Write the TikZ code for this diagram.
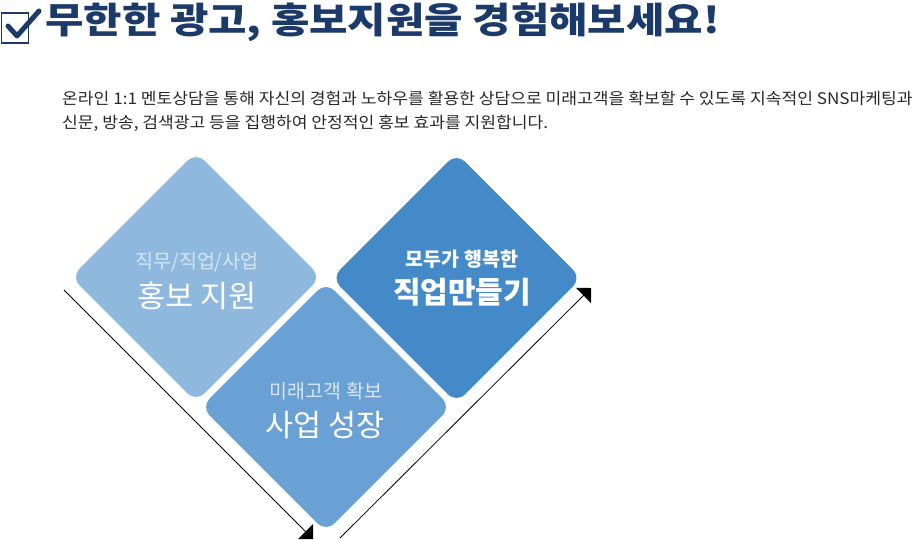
\documentclass[tikz,border=0pt]{standalone}
\usepackage{fontspec}
\setmainfont{Noto Sans CJK KR}
\usetikzlibrary{shapes.geometric,arrows.meta}
\definecolor{navy}{RGB}{27,58,105}
\definecolor{dA}{RGB}{143,184,222}
\definecolor{dB}{RGB}{106,161,212}
\definecolor{dC}{RGB}{68,137,200}
\definecolor{subA}{RGB}{216,230,244}
\definecolor{bodytxt}{RGB}{40,40,40}
\tikzset{
  dia/.style={diamond, shape aspect=1, minimum width=250pt, minimum height=250pt, inner sep=0pt, rounded corners=12pt, draw=none},
  subtxt/.style={font=\fontsize{19.5}{22}\selectfont, inner sep=0pt, anchor=center},
  maintxt/.style={font=\fontsize{30.5}{33}\selectfont, text=white, inner sep=0pt, anchor=center},
  bodyline/.style={anchor=west, inner sep=0pt, text=bodytxt, font=\fontsize{16}{18}\selectfont},
  axis/.style={line width=0.8pt, black, -{Triangle[length=10.6pt,width=21.2pt]}},
}
\begin{document}
\begin{tikzpicture}[x=1pt,y=-1pt]
\useasboundingbox (0,0) rectangle (924,539);
% title
\node (chkbox) [draw=navy, line width=1.6pt, minimum width=27pt, minimum height=30pt, inner sep=0pt] at (15,28) {};
\coordinate (ck1) at (8,26);
\coordinate (ck2) at (17,36);
\coordinate (ck3) at (39,11);
\draw[navy, line width=5pt, line cap=round, line join=round] (ck1) -- (ck2) -- (ck3);
\node (title) [anchor=west, inner sep=0pt, text=navy, font=\fontsize{36}{40}\selectfont\bfseries] at (45,22) {\scalebox{1.16}[1]{무한한 광고, 홍보지원을 경험해보세요!}};
% paragraph
\node (p1) [bodyline] at (62,98) {\scalebox{1.07}[1]{온라인 1:1 멘토상담을 통해 자신의 경험과 노하우를 활용한 상담으로 미래고객을 확보할 수 있도록 지속적인 SNS마케팅과}};
\node (p2) [bodyline] at (62,123) {\scalebox{1.07}[1]{신문, 방송, 검색광고 등을 집행하여 안정적인 홍보 효과를 지원합니다.}};
% diamonds
\node (d1) [dia, fill=dA] at (196,277) {};
\node (d2) [dia, fill=dB] at (326,407) {};
\node (d3) [dia, fill=dC] at (456.5,278) {};
% texts
\node (t1a) [subtxt, text=subA] at (197,262) {직무/직업/사업};
\node (t1b) [maintxt] at (197,296) {홍보 지원};
\node (t2a) [subtxt, text=subA] at (326,391) {미래고객 확보};
\node (t2b) [maintxt] at (325,425) {사업 성장};
\node (t3a) [subtxt, text=white, font=\fontsize{19.5}{22}\selectfont\bfseries] at (462,259) {모두가 행복한};
\node (t3b) [maintxt, font=\fontsize{30}{33}\selectfont\bfseries] at (462,292) {직업만들기};
% arrows
\coordinate (la) at (64,290);
\coordinate (lb) at (313,539);
\coordinate (ra) at (340,538);
\coordinate (rb) at (591,288);
\draw[axis] (la) -- (lb);
\draw[axis] (ra) -- (rb);
\end{tikzpicture}
\end{document}
